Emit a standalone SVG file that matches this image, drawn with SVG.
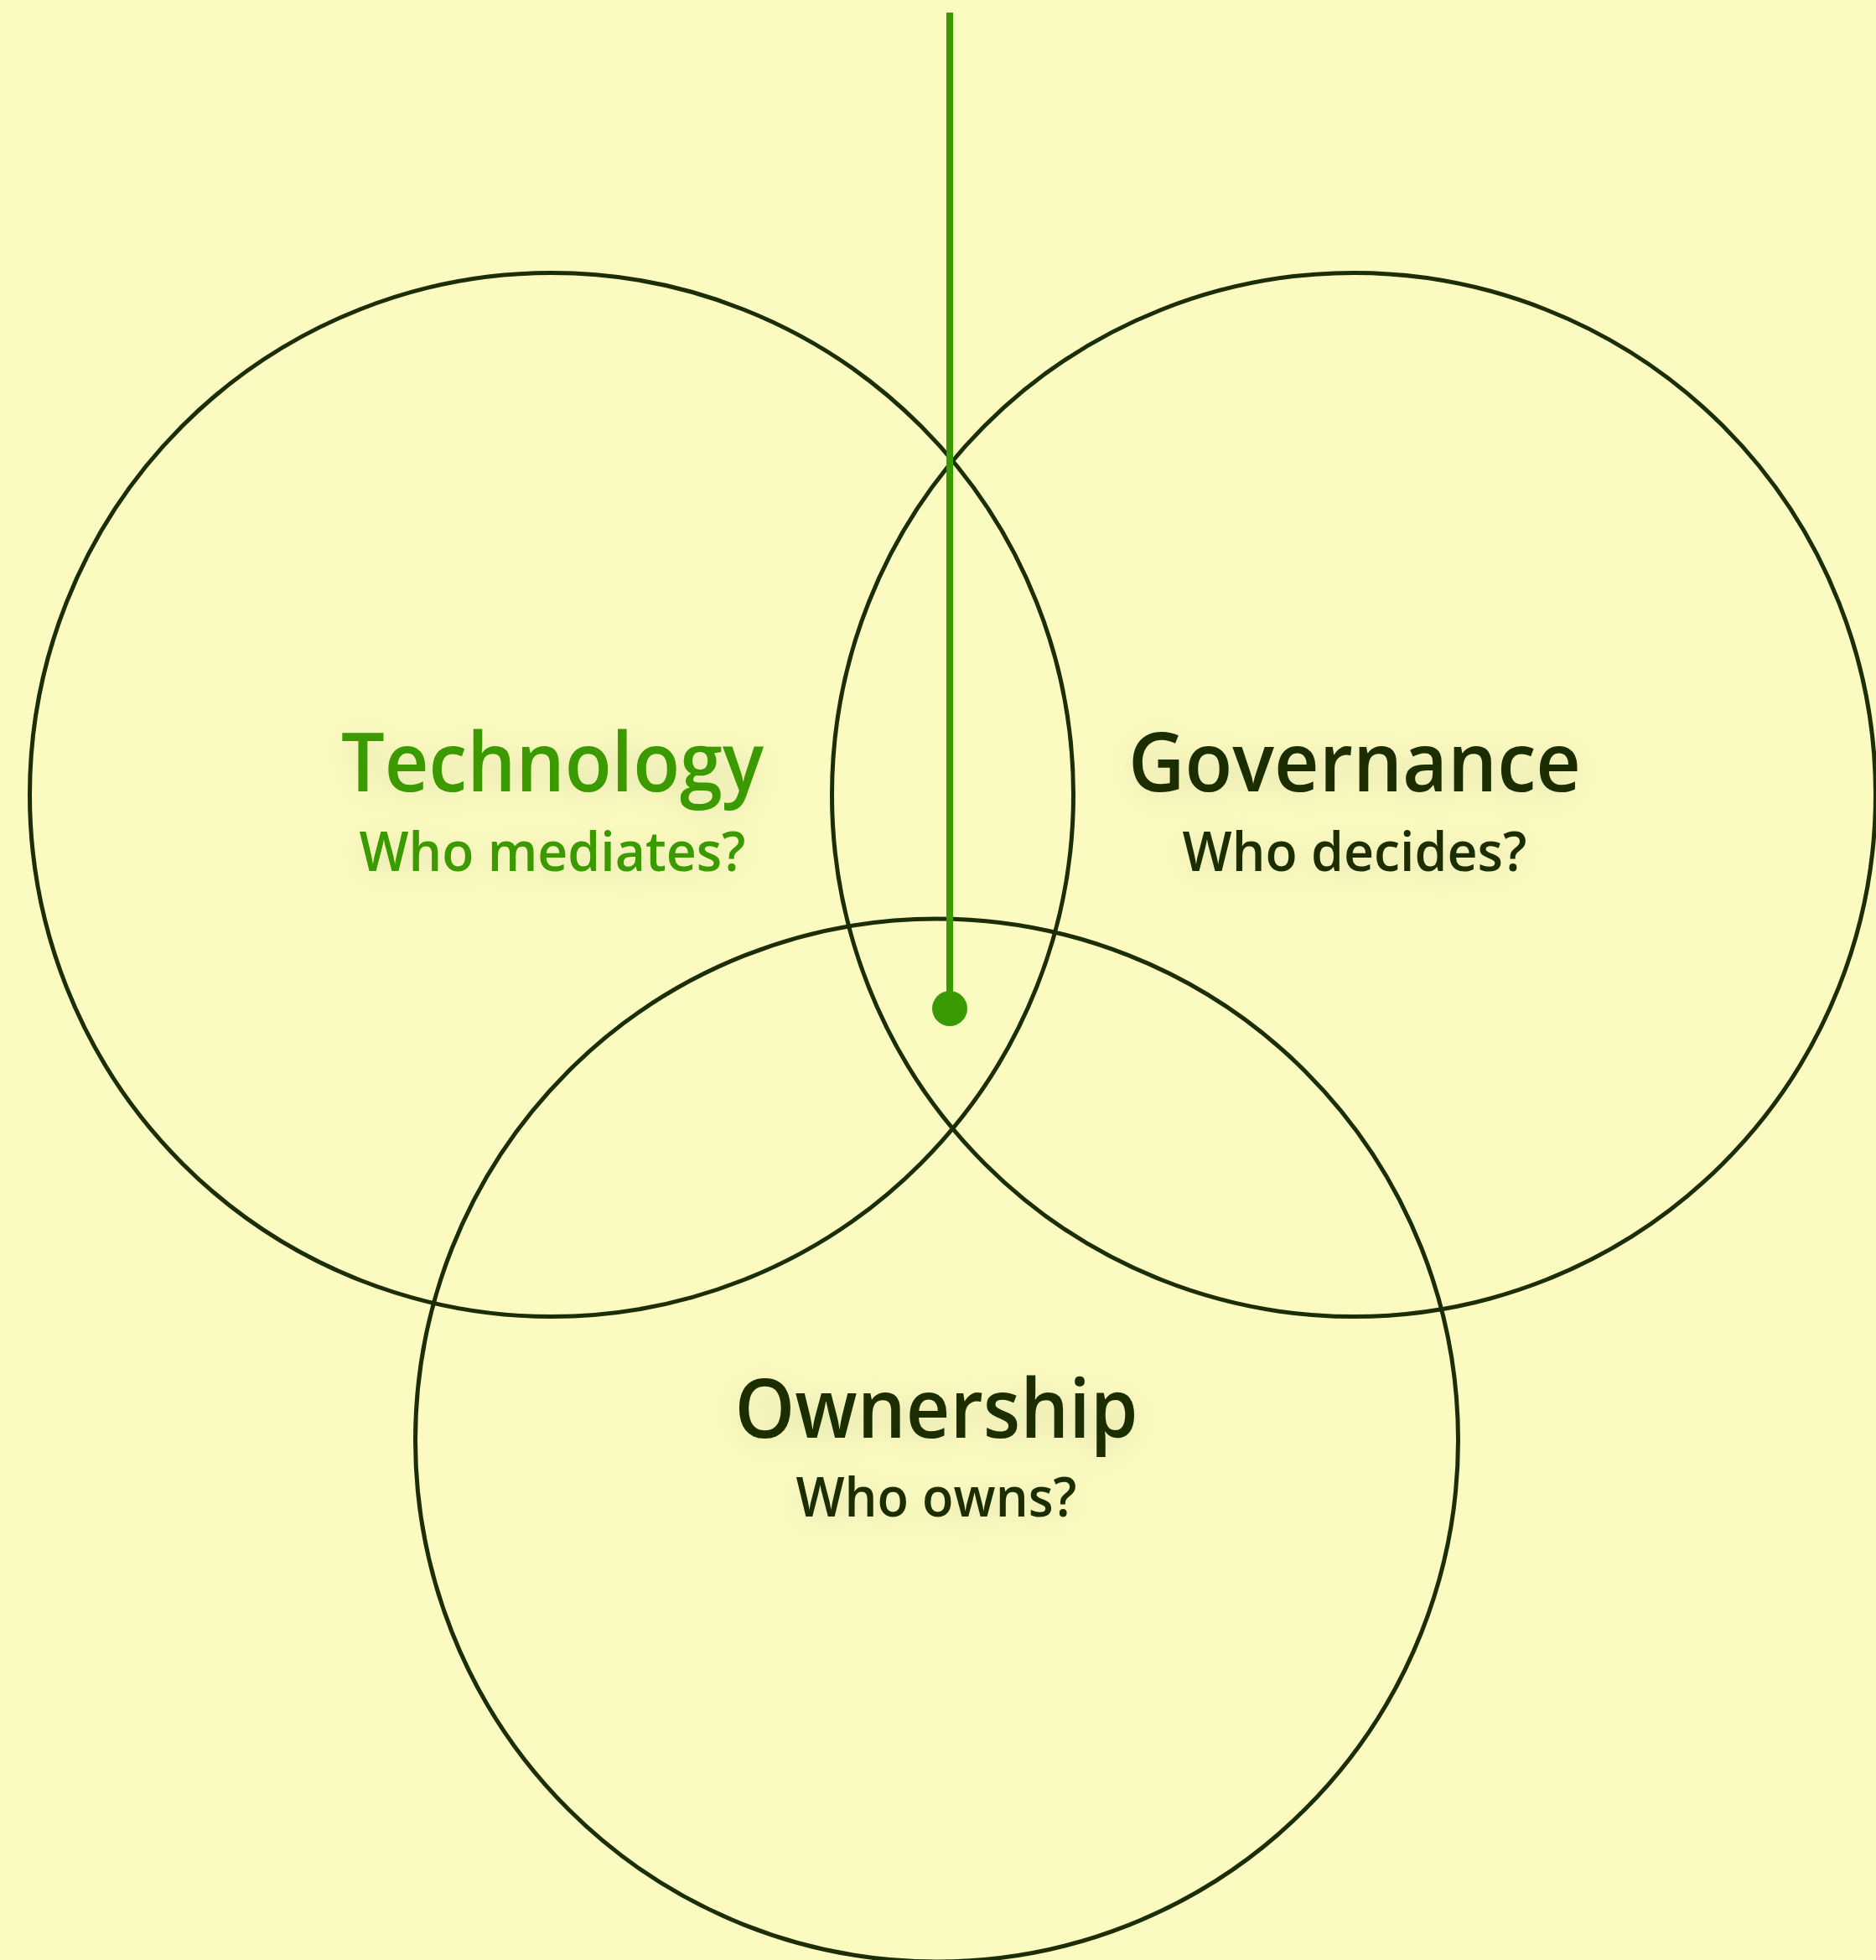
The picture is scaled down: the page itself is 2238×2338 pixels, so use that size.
<svg xmlns="http://www.w3.org/2000/svg" width="2238" height="2338" viewBox="0 0 2238 2338">
  <defs>
    <style>
      .ring { fill: none; stroke: #1b2e06; stroke-width: 5; }
      .title { font-family: "Open Sans", "Liberation Sans", sans-serif; font-weight: 600; font-size: 98px; text-anchor: middle; }
      .sub { font-family: "Open Sans", "Liberation Sans", sans-serif; font-weight: 600; font-size: 66px; text-anchor: middle; }
      .dark { fill: #1b2e06; }
      .green { fill: #3a9a04; }
    </style>
    <filter id="glow" x="-30%" y="-60%" width="160%" height="220%">
      <feGaussianBlur in="SourceAlpha" stdDeviation="18" result="b"/>
      <feOffset dy="6" in="b" result="o"/>
      <feComponentTransfer in="o" result="s"><feFuncA type="linear" slope="0.12"/></feComponentTransfer>
      <feMerge><feMergeNode in="s"/><feMergeNode in="SourceGraphic"/></feMerge>
    </filter>
  </defs>
  <rect width="2238" height="2338" fill="#fbfbc1"/>

  <g id="technology">
    <circle class="ring" cx="658" cy="948" r="622.5"/>
    <g filter="url(#glow)">
      <text class="title green" x="659" y="944" textLength="504" lengthAdjust="spacingAndGlyphs">Technology</text>
      <text class="sub green" x="659" y="1039" textLength="461" lengthAdjust="spacingAndGlyphs">Who mediates?</text>
    </g>
  </g>

  <g id="governance">
    <circle class="ring" cx="1615" cy="948" r="622.5"/>
    <g filter="url(#glow)">
      <text class="title dark" x="1616" y="944" textLength="540" lengthAdjust="spacingAndGlyphs">Governance</text>
      <text class="sub dark" x="1616" y="1039" textLength="411" lengthAdjust="spacingAndGlyphs">Who decides?</text>
    </g>
  </g>

  <g id="ownership">
    <circle class="ring" cx="1117.5" cy="1718" r="622"/>
    <g filter="url(#glow)">
      <text class="title dark" x="1117" y="1715" textLength="481" lengthAdjust="spacingAndGlyphs">Ownership</text>
      <text class="sub dark" x="1117" y="1809" textLength="335" lengthAdjust="spacingAndGlyphs">Who owns?</text>
    </g>
  </g>

  <g id="connectors">
    <line x1="1133" y1="15" x2="1133" y2="1200" stroke="#3a9a04" stroke-width="8"/>
    <circle cx="1133" cy="1203" r="21" fill="#3a9a04"/>
  </g>
</svg>
